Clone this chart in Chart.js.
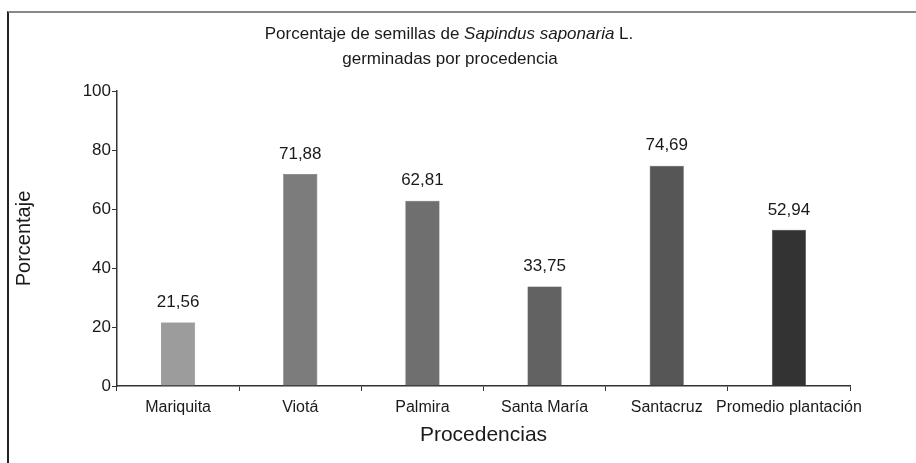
<!DOCTYPE html>
<html>
<head>
<meta charset="utf-8">
<script src="https://cdn.jsdelivr.net/npm/chart.js@4"></script>
<style>
    html, body { margin: 0; padding: 0; background: #fff; }
    #wrap { position: relative; width: 916px; height: 463px; overflow: hidden; }
    #frame { position: absolute; left: 7px; top: 11px; width: 920px; height: 470px;
             border-left: 2px solid #222; border-top: 2px solid #888; box-sizing: border-box; }
    canvas { position: absolute; left: 0; top: 0; }
</style>
</head>
<body>
<div id="wrap">
    <div id="frame"></div>
    <canvas id="germChart" width="916" height="463"></canvas>
</div>
<script>
// Data
const procedencias = ['Mariquita', 'Viotá', 'Palmira', 'Santa María', 'Santacruz', 'Promedio plantación'];
const porcentajes = [21.56, 71.88, 62.81, 33.75, 74.69, 52.94];
const barColors = ['#9c9c9c', '#7c7c7c', '#6f6f6f', '#626262', '#565656', '#333333'];
const yTicks = [0, 20, 40, 60, 80, 100];

const FONT = 'Liberation Sans, Arial, sans-serif';

// Title with italic species name, drawn in two lines
const titlePlugin = {
    id: 'mixedTitle',
    afterDraw(chart) {
        const ctx = chart.ctx;
        const parts = [
            ['Porcentaje de semillas de ', 'normal'],
            ['Sapindus saponaria', 'italic'],
            [' L.', 'normal']
        ];
        ctx.save();
        ctx.fillStyle = '#1a1a1a';
        ctx.textBaseline = 'middle';
        ctx.textAlign = 'left';
        let total = 0;
        parts.forEach(p => {
            ctx.font = p[1] + ' 17px ' + FONT;
            total += ctx.measureText(p[0]).width;
        });
        let x = 449 - total / 2;
        parts.forEach(p => {
            ctx.font = p[1] + ' 17px ' + FONT;
            ctx.fillText(p[0], x, 34);
            x += ctx.measureText(p[0]).width;
        });
        ctx.font = 'normal 17px ' + FONT;
        ctx.textAlign = 'center';
        ctx.fillText('germinadas por procedencia', 450, 59);
        ctx.restore();
    }
};

// Value labels above each bar
const valueLabels = {
    id: 'valueLabels',
    afterDatasetsDraw(chart) {
        const ctx = chart.ctx;
        const meta = chart.getDatasetMeta(0);
        ctx.save();
        ctx.font = '17px ' + FONT;
        ctx.fillStyle = '#1a1a1a';
        ctx.textAlign = 'center';
        ctx.textBaseline = 'middle';
        meta.data.forEach((bar, i) => {
            const txt = porcentajes[i].toFixed(2).replace('.', ',');
            ctx.fillText(txt, bar.x, bar.y - 20);
        });
        ctx.restore();
    }
};

function initGermChart() {
    const ctx = document.getElementById('germChart').getContext('2d');
    return new Chart(ctx, {
        type: 'bar',
        data: {
            labels: procedencias,
            datasets: [{
                data: porcentajes,
                backgroundColor: barColors,
                borderColor: '#444',
                borderWidth: 0.5,
                barPercentage: 0.56,
                categoryPercentage: 0.5
            }]
        },
        options: {
            responsive: false,
            animation: false,
            layout: {
                padding: { left: 10, right: 66, top: 91, bottom: 15 }
            },
            plugins: {
                legend: { display: false },
                tooltip: { enabled: false },
                title: { display: false }
            },
            scales: {
                x: {
                    afterFit(scale) { scale.height = 62; },
                    grid: {
                        offset: true,
                        drawOnChartArea: false,
                        drawTicks: true,
                        tickLength: 5,
                        color: '#333'
                    },
                    border: { display: true, color: '#333', width: 1.5 },
                    ticks: {
                        color: '#1a1a1a',
                        padding: 7,
                        maxRotation: 0,
                        autoSkip: false,
                        font: { family: FONT, size: 16 }
                    },
                    title: {
                        display: true,
                        text: 'Procedencias',
                        color: '#1a1a1a',
                        padding: { top: 2, bottom: 0 },
                        font: { family: FONT, size: 21 }
                    }
                },
                y: {
                    min: 0,
                    max: 100,
                    afterFit(scale) { scale.width = 107; },
                    afterBuildTicks(scale) {
                        scale.ticks = yTicks.map(v => ({ value: v }));
                    },
                    grid: {
                        drawOnChartArea: false,
                        drawTicks: true,
                        tickLength: 5,
                        color: '#333'
                    },
                    border: { display: true, color: '#333', width: 1.5 },
                    ticks: {
                        color: '#1a1a1a',
                        padding: 1,
                        font: { family: FONT, size: 17 }
                    },
                    title: {
                        display: true,
                        text: 'Porcentaje',
                        color: '#1a1a1a',
                        padding: { top: 2, bottom: 0 },
                        font: { family: FONT, size: 20 }
                    }
                }
            }
        },
        plugins: [titlePlugin, valueLabels]
    });
}

initGermChart();
</script>
</body>
</html>
